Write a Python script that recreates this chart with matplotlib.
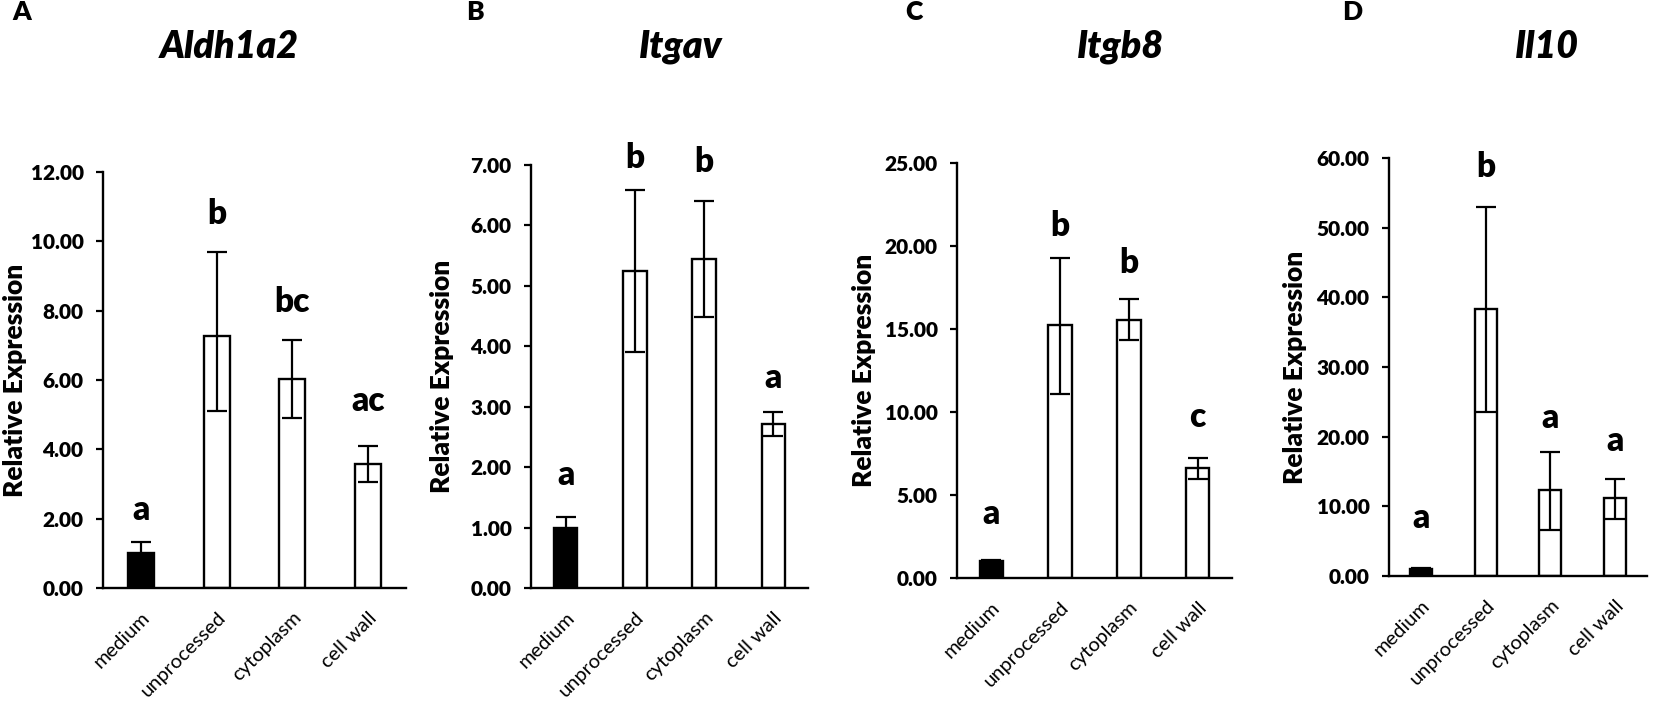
import matplotlib
matplotlib.use("Agg")
import matplotlib.pyplot as plt
import numpy as np

plt.rcParams['font.family'] = ['Lato', 'DejaVu Sans']

categories = ["medium", "unprocessed", "cytoplasm", "cell wall"]
bar_colors = ["black", "white", "white", "white"]

# Panel A: Aldh1a2
aldh_mean = [1.00, 7.27, 6.03, 3.58]
aldh_err_lo = [0.34, 2.15, 1.13, 0.52]
aldh_err_hi = [0.34, 2.43, 1.12, 0.51]
aldh_letters = ["a", "b", "bc", "ac"]
aldh_letter_y = [2.25, 10.8, 8.26, 5.40]
aldh_ticks = [0, 2, 4, 6, 8, 10, 12]

# Panel B: Itgav
itgav_mean = [1.00, 5.24, 5.45, 2.71]
itgav_err_lo = [0.17, 1.33, 0.97, 0.19]
itgav_err_hi = [0.17, 1.35, 0.95, 0.20]
itgav_letters = ["a", "b", "b", "a"]
itgav_letter_y = [1.87, 7.12, 7.05, 3.48]
itgav_ticks = [0, 1, 2, 3, 4, 5, 6, 7]

# Panel C: Itgb8
itgb8_mean = [1.00, 15.24, 15.55, 6.62]
itgb8_err_lo = [0.10, 4.14, 1.23, 0.66]
itgb8_err_hi = [0.10, 4.06, 1.23, 0.62]
itgb8_letters = ["a", "b", "b", "c"]
itgb8_letter_y = [3.84, 21.2, 19.0, 9.7]
itgb8_ticks = [0, 5, 10, 15, 20, 25]

# Panel D: Il10
il10_mean = [1.00, 38.3, 12.35, 11.15]
il10_err_lo = [0.20, 14.7, 5.7, 2.9]
il10_err_hi = [0.20, 14.7, 5.5, 2.8]
il10_letters = ["a", "b", "a", "a"]
il10_letter_y = [8.3, 58.75, 22.65, 19.4]
il10_ticks = [0, 10, 20, 30, 40, 50, 60]

W, H = 1654, 707
fig = plt.figure(figsize=(W / 100, H / 100), dpi=100)

panels = [
    dict(letter="A", title="Aldh1a2", mean=aldh_mean, lo=aldh_err_lo, hi=aldh_err_hi,
         letters=aldh_letters, ly=aldh_letter_y, ticks=aldh_ticks,
         box=(103, 406, 588, 172), title_x=229, letter_x=12, ylab_x=15),
    dict(letter="B", title="Itgav", mean=itgav_mean, lo=itgav_err_lo, hi=itgav_err_hi,
         letters=itgav_letters, ly=itgav_letter_y, ticks=itgav_ticks,
         box=(531, 808, 588, 165), title_x=681, letter_x=466, ylab_x=442),
    dict(letter="C", title="Itgb8", mean=itgb8_mean, lo=itgb8_err_lo, hi=itgb8_err_hi,
         letters=itgb8_letters, ly=itgb8_letter_y, ticks=itgb8_ticks,
         box=(957, 1232, 578, 163), title_x=1121, letter_x=905, ylab_x=864),
    dict(letter="D", title="Il10", mean=il10_mean, lo=il10_err_lo, hi=il10_err_hi,
         letters=il10_letters, ly=il10_letter_y, ticks=il10_ticks,
         box=(1389, 1647, 576, 158), title_x=1547, letter_x=1342, ylab_x=1295),
]

x = np.arange(len(categories))
for p in panels:
    L, R, B, T = p["box"]
    ax = fig.add_axes([L / W, 1 - B / H, (R - L) / W, (B - T) / H])
    ax.bar(x, p["mean"], width=0.34, color=bar_colors, edgecolor="black",
           linewidth=1.7, zorder=2)
    ax.errorbar(x, p["mean"], yerr=[p["lo"], p["hi"]], fmt="none", ecolor="black",
                elinewidth=1.6, capsize=7.5, capthick=1.6, zorder=3)
    for xi, lab, yy in zip(x, p["letters"], p["ly"]):
        ax.text(xi, yy, lab, ha="center", va="center", fontsize=24,
                fontweight="heavy", zorder=4)
    ax.set_xlim(-0.5, 3.5)
    ax.set_ylim(0, p["ticks"][-1])
    ax.set_yticks(p["ticks"])
    ax.set_yticklabels([f"{t:.2f}" for t in p["ticks"]], fontsize=15,
                       fontweight="heavy")
    ax.set_xticks(x)
    ax.set_xticklabels(categories, rotation=45, ha="right",
                       rotation_mode="anchor", fontsize=14.5)
    ax.tick_params(axis="x", length=0, pad=15)
    ax.tick_params(axis="y", length=5, width=1.6, pad=9, direction="out")
    for s in ["top", "right"]:
        ax.spines[s].set_visible(False)
    for s in ["left", "bottom"]:
        ax.spines[s].set_linewidth(1.7)
    fig.text(p["ylab_x"] / W, 1 - ((B + T) / 2) / H, "Relative Expression",
             rotation=90, ha="center", va="center", fontsize=19,
             fontweight="heavy")
    fig.text(p["title_x"] / W, 1 - 47 / H, p["title"], ha="center", va="center",
             fontsize=27, fontweight="heavy", fontstyle="italic")
    fig.text(p["letter_x"] / W, 1 - 12 / H, p["letter"], ha="left", va="center",
             fontsize=19, fontweight="heavy")

fig.savefig("out.png", dpi=100)
